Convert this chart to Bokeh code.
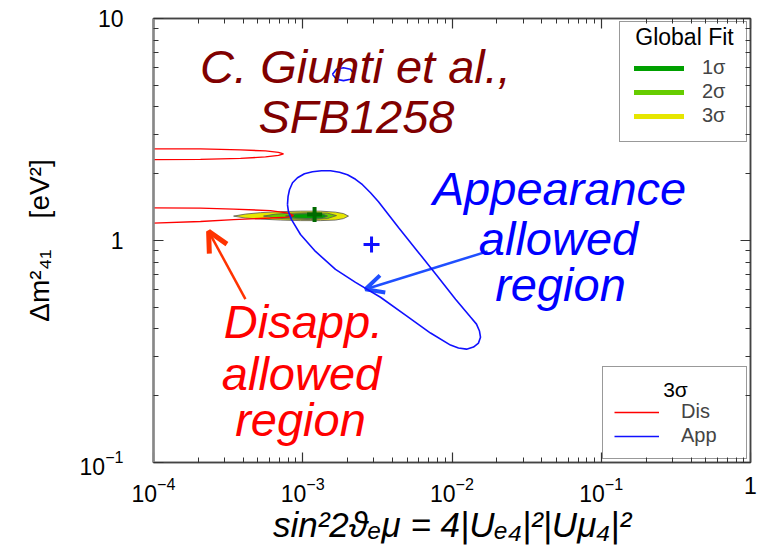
from bokeh.plotting import figure
from bokeh.models import (LogAxis, FixedTicker, LogTickFormatter, CustomJSTickFormatter, Label, Arrow,
                          OpenHead, Legend, LegendItem)
from bokeh.embed import file_html
from bokeh.resources import INLINE

# ---------------- data ----------------
x_major = [1e-4, 1e-3, 1e-2, 1e-1, 1.0]
y_major = [0.1, 1.0, 10.0]

# Disappearance 3 sigma allowed region (two branches, starting left of the frame)
dis_upper_x = [4.99e-5, 2.065e-4, 3.83e-4, 5.63e-4, 6.88e-4, 7.43e-4, 6.88e-4, 5.63e-4, 3.83e-4, 2.065e-4, 4.99e-5]
dis_upper_y = [2.586, 2.586, 2.559, 2.533, 2.494, 2.455, 2.417, 2.380, 2.344, 2.320, 2.308]
dis_lower_x = [4.99e-5, 2.065e-4, 3.44e-4, 6.08e-4, 8.02e-4, 8.67e-4, 8.02e-4, 6.08e-4, 3.44e-4, 2.065e-4, 4.99e-5]
dis_lower_y = [1.406, 1.399, 1.384, 1.363, 1.328, 1.295, 1.275, 1.262, 1.242, 1.217, 1.179]

# Appearance 3 sigma allowed region
app_main_x = [7.90e-4, 7.97e-4, 8.15e-4, 8.54e-4, 9.22e-4, 1.027e-3, 1.162e-3, 1.335e-3, 1.534e-3,
              1.762e-3, 1.994e-3, 2.257e-3, 2.514e-3, 2.844e-3, 3.217e-3, 4.38e-3, 5.96e-3, 7.99e-3,
              1.056e-2, 1.330e-2, 1.459e-2, 1.528e-2, 1.552e-2, 1.505e-2, 1.393e-2, 1.251e-2, 1.105e-2,
              9.77e-3, 7.18e-3, 4.88e-3, 3.318e-3, 2.257e-3, 1.657e-3, 1.217e-3, 9.66e-4, 8.41e-4, 8.02e-4]
app_main_y = [1.450, 1.575, 1.693, 1.820, 1.916, 1.997, 2.040, 2.060, 2.060,
              2.029, 1.977, 1.887, 1.783, 1.641, 1.496, 1.144, 0.884, 0.690,
              0.544, 0.452, 0.420, 0.391, 0.367, 0.345, 0.331, 0.324, 0.328,
              0.338, 0.383, 0.461, 0.555, 0.648, 0.741, 0.893, 1.064, 1.242, 1.349]
app_small_x = [1.582e-3, 1.683e-3, 1.875e-3, 2.089e-3, 2.222e-3, 2.089e-3, 1.875e-3, 1.683e-3]
app_small_y = [5.61, 5.91, 6.00, 5.91, 5.61, 5.33, 5.25, 5.33]
app_best_x = [2.89e-3]
app_best_y = [0.960]

# Global fit contours
fit3_x = [3.44e-4, 4.13e-4, 5.21e-4, 7.10e-4, 9.66e-4, 1.315e-3, 1.657e-3, 1.875e-3, 2.025e-3,
          1.875e-3, 1.657e-3, 1.315e-3, 9.66e-4, 7.10e-4, 5.21e-4, 4.13e-4]
fit3_y = [1.288, 1.315, 1.335, 1.349, 1.356, 1.356, 1.342, 1.322, 1.288,
          1.255, 1.236, 1.229, 1.229, 1.236, 1.249, 1.262]
fit2_x = [5.46e-4, 6.57e-4, 8.28e-4, 1.127e-3, 1.465e-3, 1.683e-3, 1.465e-3, 1.127e-3, 8.28e-4, 6.57e-4]
fit2_y = [1.288, 1.315, 1.328, 1.335, 1.328, 1.295, 1.255, 1.242, 1.249, 1.262]
fit1_x = [7.66e-4, 8.94e-4, 1.127e-3, 1.356e-3, 1.465e-3, 1.356e-3, 1.127e-3, 8.94e-4]
fit1_y = [1.288, 1.315, 1.322, 1.315, 1.288, 1.262, 1.255, 1.262]
fit_best_x = [1.20e-3]
fit_best_y = [1.308]

fit_labels = ["1σ", "2σ", "3σ"]
fit_colors = ["#00a000", "#66cc00", "#e6e600"]
dis_color = "#ff0000"
app_color = "#1010ff"

x_title = "sin²2ϑₑμ = 4|Uₑ₄|²|Uμ₄|²"
y_title = "Δm²₄₁\u00a0\u00a0\u00a0\u00a0[eV²]"

FONT = "Liberation Sans"

# ---------------- figure ----------------
p = figure(width=760, height=546, x_axis_type="log", y_axis_type="log",
           x_range=(x_major[0], x_major[-1]), y_range=(y_major[0], y_major[-1]),
           output_backend="svg", toolbar_location=None,
           min_border_left=153, min_border_right=10, min_border_top=18, min_border_bottom=82)
p.xgrid.visible = False
p.ygrid.visible = False
p.background_fill_color = "white"
p.border_fill_color = "white"
p.outline_line_color = "#444444"
p.outline_line_width = 1.5

x_minor = [m * t for t in x_major[:-1] for m in range(2, 10)]
y_minor = [m * t for t in y_major[:-1] for m in range(2, 10)]
xt = FixedTicker(ticks=x_major, minor_ticks=x_minor)
yt = FixedTicker(ticks=y_major, minor_ticks=y_minor)
blank = CustomJSTickFormatter(code="return '';")

def style_axis(ax, ticker, formatter, standoff, line_color="#444444", line_width=1.5):
    ax.ticker = ticker
    ax.formatter = formatter
    ax.major_tick_in = 10
    ax.major_tick_out = 0
    ax.minor_tick_in = 5
    ax.minor_tick_out = 0
    ax.major_tick_line_color = "#333333"
    ax.minor_tick_line_color = "#333333"
    ax.major_tick_line_width = 1.2
    ax.minor_tick_line_width = 1
    ax.axis_line_color = line_color
    ax.axis_line_width = line_width
    ax.major_label_standoff = standoff
    ax.major_label_text_font = FONT
    ax.major_label_text_font_size = "23px"
    ax.major_label_text_color = "black"

xa = p.xaxis[0]
ya = p.yaxis[0]
style_axis(xa, xt, LogTickFormatter(), 14)
style_axis(ya, yt, LogTickFormatter(), 30, line_color="#888888", line_width=2.5)
xa.major_label_overrides = {1.0: "1"}
ya.major_label_overrides = {1.0: "1", 10.0: "10"}

xa.axis_label = x_title
xa.axis_label_text_font = FONT
xa.axis_label_text_font_size = "35px"
xa.axis_label_text_font_style = "italic"
xa.axis_label_text_color = "black"
xa.axis_label_standoff = 0

ya.axis_label = y_title
ya.axis_label_text_font = FONT
ya.axis_label_text_font_size = "28px"
ya.axis_label_text_font_style = "normal"
ya.axis_label_text_color = "black"
ya.axis_label_standoff = 22

top_ax = LogAxis()
right_ax = LogAxis()
style_axis(top_ax, xt, blank, 0)
style_axis(right_ax, yt, blank, 0)
top_ax.major_label_text_font_size = "1px"
right_ax.major_label_text_font_size = "1px"
p.add_layout(top_ax, "above")
p.add_layout(right_ax, "right")

# ---------------- global fit contours ----------------
p.patch(fit3_x, fit3_y, fill_color=fit_colors[2], line_color="#555555", line_width=0.8)
p.patch(fit2_x, fit2_y, fill_color=fit_colors[1], line_color="#555555", line_width=0.8)
p.patch(fit1_x, fit1_y, fill_color=fit_colors[0], line_color="#555555", line_width=0.8)

# ---------------- disappearance / appearance contours ----------------
dis_r = p.multi_line([dis_upper_x, dis_lower_x + dis_lower_x[:1]],
                     [dis_upper_y, dis_lower_y + dis_lower_y[:1]],
                     line_color=dis_color, line_width=1.4)
app_r = p.multi_line([app_main_x + app_main_x[:1], app_small_x + app_small_x[:1]],
                     [app_main_y + app_main_y[:1], app_small_y + app_small_y[:1]],
                     line_color=app_color, line_width=1.6, level="overlay")
p.scatter(app_best_x, app_best_y, marker="cross", size=16, line_width=3, line_color=app_color)
p.scatter(fit_best_x, fit_best_y, marker="cross", size=15, line_width=4, line_color="#006a00")

# legend samples for the global fit levels (no visible data of their own)
nan = float("nan")
proxies = [p.line(x=[nan], y=[nan], line_color=c, line_width=5, line_cap="round") for c in fit_colors]

leg1 = Legend(items=[LegendItem(label=l, renderers=[r]) for l, r in zip(fit_labels, proxies)],
              title=" ", location="top_right", margin=3, padding=14,
              glyph_width=50, glyph_height=20, label_height=20, label_width=30,
              label_standoff=18, spacing=1, title_standoff=4,
              border_line_color="#333333", border_line_width=1.5,
              background_fill_alpha=0.0,
              label_text_font=FONT, label_text_font_size="20px",
              title_text_font=FONT, title_text_font_size="14px")
leg2 = Legend(items=[LegendItem(label="Dis", renderers=[dis_r]), LegendItem(label="App", renderers=[app_r])],
              title=" ", location="bottom_right", margin=3, padding=11,
              glyph_width=45, glyph_height=20, label_height=20, label_width=54,
              label_standoff=22, spacing=1, title_standoff=4,
              border_line_color="#333333", border_line_width=1.5,
              background_fill_alpha=0.0,
              label_text_font=FONT, label_text_font_size="20px",
              title_text_font=FONT, title_text_font_size="16px")
p.add_layout(leg1)
p.add_layout(leg2)

# ---------------- annotations ----------------
def add_label(text, sx, sy, size, color, style="normal", align="center"):
    p.add_layout(Label(x=sx, y=sy, x_units="screen", y_units="screen", text=text,
                       text_font=FONT, text_font_size=f"{size}px", text_font_style=style,
                       text_color=color, text_align=align, text_baseline="middle",
                       level="overlay"))

# legend titles, centred in their boxes
add_label("Global Fit", 531, 426, 23, "black")
add_label("3σ", 522, 73, 21, "black")

BIG = 47
add_label("C. Giunti et al.,", 202, 396, BIG, "#800000", "italic")
add_label("SFB1258", 203, 346, BIG, "#800000", "italic")
add_label("Appearance", 406, 274, BIG, "#0000ff", "italic")
add_label("allowed", 405, 224, BIG, "#0000ff", "italic")
add_label("region", 407, 178, BIG, "#0000ff", "italic")
add_label("Disapp.", 150, 141, BIG, "#ff0000", "italic")
add_label("allowed", 148, 89, BIG, "#ff0000", "italic")
add_label("region", 147, 43, BIG, "#ff0000", "italic")

p.add_layout(Arrow(x_start=4.13e-4, y_start=0.544, x_end=2.34e-4, y_end=1.10,
                   line_color="#ff3300", line_width=2.5,
                   end=OpenHead(size=20, line_color="#ff3300", line_width=5)))
p.add_layout(Arrow(x_start=1.73e-2, y_start=0.893, x_end=2.63e-3, y_end=0.603,
                   line_color="#1f4fff", line_width=2.5,
                   end=OpenHead(size=18, line_color="#1f4fff", line_width=4)))

open("out.html", "w").write(file_html(p, INLINE))
